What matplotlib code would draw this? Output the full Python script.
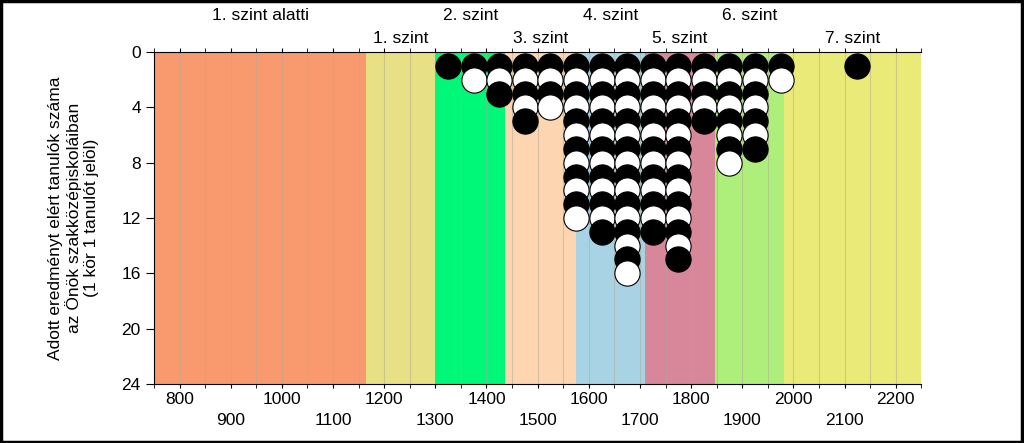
import numpy as np
import matplotlib.pyplot as plt
from matplotlib.patches import Rectangle

plt.rcParams['font.family'] = ['Liberation Sans', 'DejaVu Sans']

# Level bands (score limits) and their colours
band_edges = [750, 1165, 1300, 1437, 1574, 1710, 1846, 1982, 2250]
band_names = ['1. szint alatti', '1. szint', '2. szint', '3. szint',
              '4. szint', '5. szint', '6. szint', '7. szint']
band_colors = ['#F99A6E', '#E8E085', '#00F878', '#FDD5B0',
               '#A8D3E4', '#D8879A', '#ADEF7A', '#EAEA78']

# Students per 50-point bin (bin centres)
bin_centers = [1325, 1375, 1425, 1475, 1525, 1575, 1625, 1675, 1725, 1775,
               1825, 1875, 1925, 1975, 2125]
counts = [1, 2, 3, 5, 4, 12, 13, 16, 13, 15, 5, 8, 7, 2, 1]

x_ticks = list(range(800, 2300, 100))

fig = plt.figure(figsize=(10.24, 4.43), dpi=100)
ax = fig.add_axes([0.1504, 0.1332, 0.7493, 0.7494])

for i in range(len(band_names)):
    ax.axvspan(band_edges[i], band_edges[i + 1], color=band_colors[i], lw=0, zorder=0)
    mid = (band_edges[i] + band_edges[i + 1]) / 2
    y_txt = 1.111 if i % 2 == 0 else 1.042
    ax.text(mid, y_txt, band_names[i], transform=ax.get_xaxis_transform(),
            ha='center', va='center', fontsize=12.5)

for gx in range(800, 2250, 50):
    ax.axvline(gx, color='#B0A898', lw=0.8, alpha=0.5, zorder=1)

z = 3
for xc, n in zip(bin_centers, counts):
    for k in range(n):
        fc = 'black' if k % 2 == 0 else 'white'
        ax.scatter(xc, k + 1, s=330, facecolor=fc, edgecolor='black',
                   linewidth=0.8, zorder=z)
        z += 1

ax.set_xlim(750, 2250)
ax.set_ylim(24, 0)
ax.set_yticks(range(0, 25, 4))
ax.set_xticks(x_ticks)
ax.set_xticklabels([str(t) if (t // 100) % 2 == 0 else '\n' + str(t) for t in x_ticks])
for lab in ax.get_xticklabels():
    lab.set_linespacing(1.45)
ax.set_xticks(range(750, 2251, 50), minor=True)
ax.tick_params(axis='x', which='major', length=3, labelsize=12.5, pad=3)
ax.tick_params(axis='x', which='minor', length=3)
ax.tick_params(axis='y', length=6, labelsize=12.5)
ax.tick_params(axis='x', which='both', top=True, direction='out')

ax.spines['right'].set_visible(False)
ax.spines['bottom'].set_linewidth(0.8)
ax.spines['top'].set_linewidth(0.8)

ax.set_ylabel('Adott eredményt elért tanulók száma\naz Önök szakközépiskoláiban\n(1 kör 1 tanulót jelöl)',
              fontsize=12.5, labelpad=16, linespacing=1.15)

fig.patches.append(Rectangle((0.001, 0.002), 0.997, 0.996, transform=fig.transFigure,
                             fill=False, edgecolor='black', lw=2.5))

fig.savefig('out.png', dpi=100)
